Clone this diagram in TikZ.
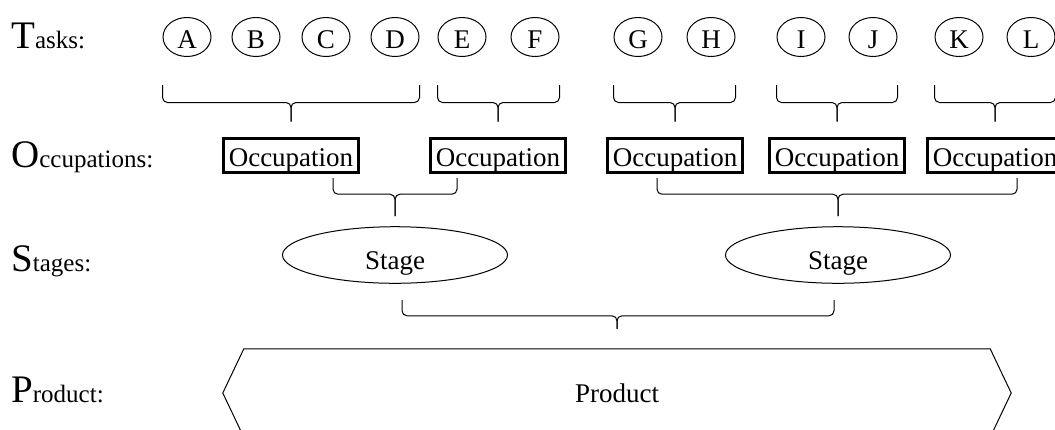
\documentclass[tikz,border=0pt]{standalone}
\usepackage{fontspec}
\setmainfont{Liberation Serif}
\usetikzlibrary{shapes.geometric}

\newcommand{\ini}[1]{{\fontsize{39}{40}\selectfont #1}}
\newcommand{\grp}[5]{%
  \draw[grp] (#1) |- ([yshift=#4]#3.north) -- ([yshift=#5]#3.north);
  \draw[grp] (#2) |- ([yshift=#4]#3.north) -- ([yshift=#5]#3.north);}

\tikzset{
  task/.style={ellipse, draw, line width=1pt, minimum width=48pt, minimum height=39pt, inner sep=0pt,
    text height=22pt, text depth=0pt},
  occ/.style={rectangle, draw, line width=3pt, minimum width=135pt, minimum height=34pt, inner sep=0pt,
    text height=28pt, text depth=6pt},
  stage/.style={ellipse, draw, line width=1pt, minimum width=225pt, minimum height=45pt, inner sep=0pt,
    text height=34pt, text depth=6pt},
  level/.style={anchor=base west, inner sep=0pt, font=\fontsize{25}{28}\selectfont},
  grp/.style={line width=1pt, rounded corners=5pt},
}

\begin{document}
\begin{tikzpicture}[x=1pt, y=-1pt, every node/.style={font=\fontsize{27}{30}\selectfont}]
  \useasboundingbox (0,0) rectangle (1055,429);

  \node[level] (ltask) at (11,48) {\ini{T}asks:};
  \node[level] (locc) at (11,167) {\ini{O}ccupations:};
  \node[level] (lstage) at (11,271) {\ini{S}tages:};
  \node[level] (lprod) at (11,402) {\ini{P}roduct:};

  \foreach \n/\x in {A/187,B/256,C/326,D/395,E/462,F/535,G/638,H/711,I/801,J/873,K/959,L/1031}
    \node[task] (\n) at (\x,37) {\n};

  \foreach \n/\x in {1/291,2/498,3/675,4/837,5/995}
    \node[occ] (occ\n) at (\x,155) {Occupation};

  \node[stage] (st1) at (395,255) {Stage};
  \node[stage] (st2) at (838,255) {Stage};

  \node[minimum width=746pt, minimum height=88pt, inner sep=0pt] (prod) at (617,393) {Product};
  \draw[line width=1pt] (prod.north west) -- (prod.north east) -- ([xshift=21pt]prod.east)
    -- (prod.south east) -- (prod.south west) -- ([xshift=-21pt]prod.west) -- cycle;

  \grp{[yshift=-48pt]A.west}{[yshift=-48pt]D.east}{occ1}{34pt}{15pt}
  \grp{[yshift=-48pt]E.west}{[yshift=-48pt]F.east}{occ2}{34pt}{15pt}
  \grp{[yshift=-48pt]G.west}{[yshift=-48pt]H.east}{occ3}{34pt}{15pt}
  \grp{[yshift=-48pt]I.west}{[yshift=-48pt]J.east}{occ4}{34pt}{15pt}
  \grp{[yshift=-48pt]K.west}{[yshift=-48pt]L.east}{occ5}{34pt}{15pt}

  \grp{[xshift=42pt,yshift=-23pt]occ1.center}{[xshift=-41pt,yshift=-23pt]occ2.center}{st1}{32pt}{10pt}
  \grp{[xshift=-18pt,yshift=-23pt]occ3.center}{[xshift=22pt,yshift=-23pt]occ5.center}{st2}{32pt}{10pt}

  \grp{[xshift=7pt,yshift=-45pt]st1.center}{[xshift=-4pt,yshift=-45pt]st2.center}{prod}{33pt}{20pt}
\end{tikzpicture}
\end{document}
